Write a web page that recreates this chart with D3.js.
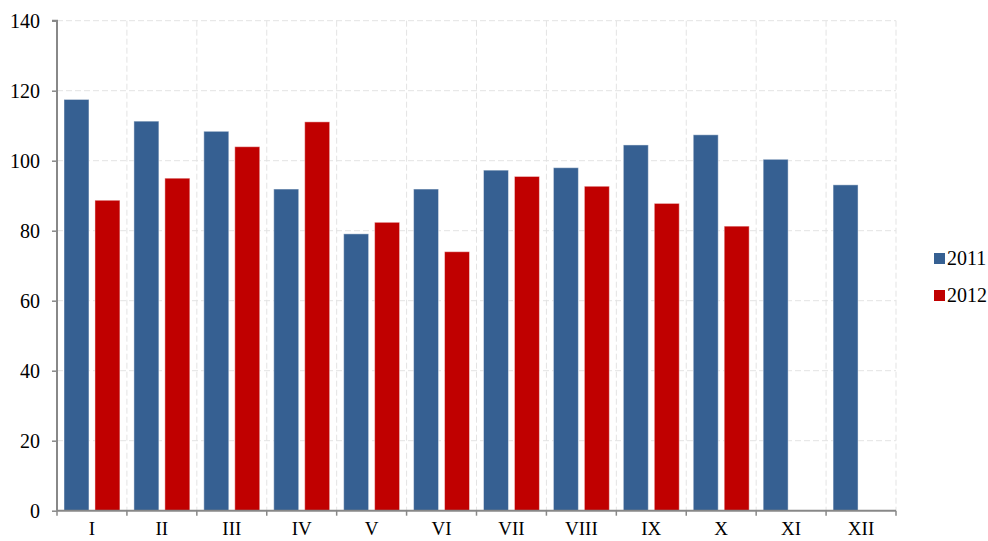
<!DOCTYPE html>
<html>
<head>
<meta charset="utf-8">
<script src="https://cdn.jsdelivr.net/npm/d3@7"></script>
<style>
  body { margin: 0; background: #fff; }
  text { font-family: "Liberation Serif", "Times New Roman", serif; }
</style>
</head>
<body>
<div id="chart"></div>
<script>
var months = ["I", "II", "III", "IV", "V", "VI", "VII", "VIII", "IX", "X", "XI", "XII"];
var seriesNames = ["2011", "2012"];
var values2011 = [117.5, 111.3, 108.4, 91.9, 79.1, 91.9, 97.3, 98.0, 104.5, 107.4, 100.4, 93.1];
var values2012 = [88.7, 95.0, 104.0, 111.1, 82.4, 74.0, 95.5, 92.7, 87.8, 81.3, null, null];
var yTicks = [0, 20, 40, 60, 80, 100, 120, 140];
var colors = ["#366092", "#c00000"];

var svgWidth = 988;
var svgHeight = 541;
var margin = { top: 20.7, right: 92, bottom: 30.3, left: 57 };
var width = svgWidth - margin.left - margin.right;
var height = svgHeight - margin.top - margin.bottom;

var svg = d3.select("#chart")
  .append("svg")
  .attr("width", svgWidth)
  .attr("height", svgHeight);

var chartGroup = svg.append("g")
  .attr("transform", `translate(${margin.left}, ${margin.top})`);

var xScale = d3.scaleBand()
  .domain(months)
  .range([0, width])
  .padding(0);

var xInner = d3.scaleBand()
  .domain(seriesNames)
  .range([0, xScale.bandwidth()])
  .paddingInner(6 / 31)
  .paddingOuter(0.226);

var yScale = d3.scaleLinear()
  .domain([0, 140])
  .range([height, 0]);

// grid lines
chartGroup.append("g")
  .selectAll("line")
  .data(yTicks.slice(1))
  .enter()
  .append("line")
  .attr("x1", 0)
  .attr("x2", width)
  .attr("y1", d => yScale(d))
  .attr("y2", d => yScale(d))
  .attr("stroke", "#e3e3e3")
  .attr("stroke-dasharray", "6,3");

chartGroup.append("g")
  .selectAll("line")
  .data(months)
  .enter()
  .append("line")
  .attr("x1", d => xScale(d) + xScale.bandwidth())
  .attr("x2", d => xScale(d) + xScale.bandwidth())
  .attr("y1", 0)
  .attr("y2", height)
  .attr("stroke", "#e3e3e3")
  .attr("stroke-dasharray", "6,3");

// bars
var data = [];
months.forEach(function (m, i) {
  data.push({ month: m, series: "2011", value: values2011[i] });
  if (values2012[i] != null) data.push({ month: m, series: "2012", value: values2012[i] });
});

chartGroup.selectAll(".bar")
  .data(data)
  .enter()
  .append("rect")
  .attr("class", "bar")
  .attr("x", d => xScale(d.month) + xInner(d.series))
  .attr("width", xInner.bandwidth())
  .attr("y", d => yScale(d.value))
  .attr("height", d => height - yScale(d.value))
  .attr("fill", d => colors[seriesNames.indexOf(d.series)])
  .attr("stroke", "#ffffff")
  .attr("stroke-opacity", 0.45)
  .attr("stroke-width", 1);

// axes
var leftAxis = d3.axisLeft(yScale).tickValues(yTicks).tickSize(5).tickPadding(12);
var yAxisG = chartGroup.append("g").call(leftAxis);
yAxisG.select(".domain").attr("stroke", "#888").attr("stroke-width", 2).attr("d", `M0,${height}V0H-5`);
yAxisG.selectAll(".tick line").attr("stroke", "#888").attr("stroke-width", 1.5);
yAxisG.selectAll("text").attr("font-size", "20px").attr("fill", "#000");

var bottomAxis = d3.axisBottom(xScale).tickSize(0).tickPadding(11);
var xAxisG = chartGroup.append("g")
  .attr("transform", `translate(0, ${height})`)
  .call(bottomAxis);
xAxisG.select(".domain").attr("stroke", "#888").attr("stroke-width", 2).attr("d", `M0,0H${width}`);
xAxisG.selectAll("text").attr("font-size", "19px").attr("fill", "#000");

xAxisG.selectAll(".sep")
  .data([null].concat(months))
  .enter()
  .append("line")
  .attr("x1", d => d == null ? 0 : xScale(d) + xScale.bandwidth())
  .attr("x2", d => d == null ? 0 : xScale(d) + xScale.bandwidth())
  .attr("y1", 0)
  .attr("y2", 5)
  .attr("stroke", "#888")
  .attr("stroke-width", 1.5);

// legend
var legend = svg.append("g")
  .attr("transform", "translate(934, 253)");

var legendItems = legend.selectAll("g")
  .data(seriesNames)
  .enter()
  .append("g")
  .attr("transform", (d, i) => `translate(0, ${i * 37})`);

legendItems.append("rect")
  .attr("width", 11)
  .attr("height", 11)
  .attr("fill", (d, i) => colors[i]);

legendItems.append("text")
  .attr("x", 13)
  .attr("y", 12)
  .attr("font-size", "20px")
  .text(d => d);
</script>
</body>
</html>
